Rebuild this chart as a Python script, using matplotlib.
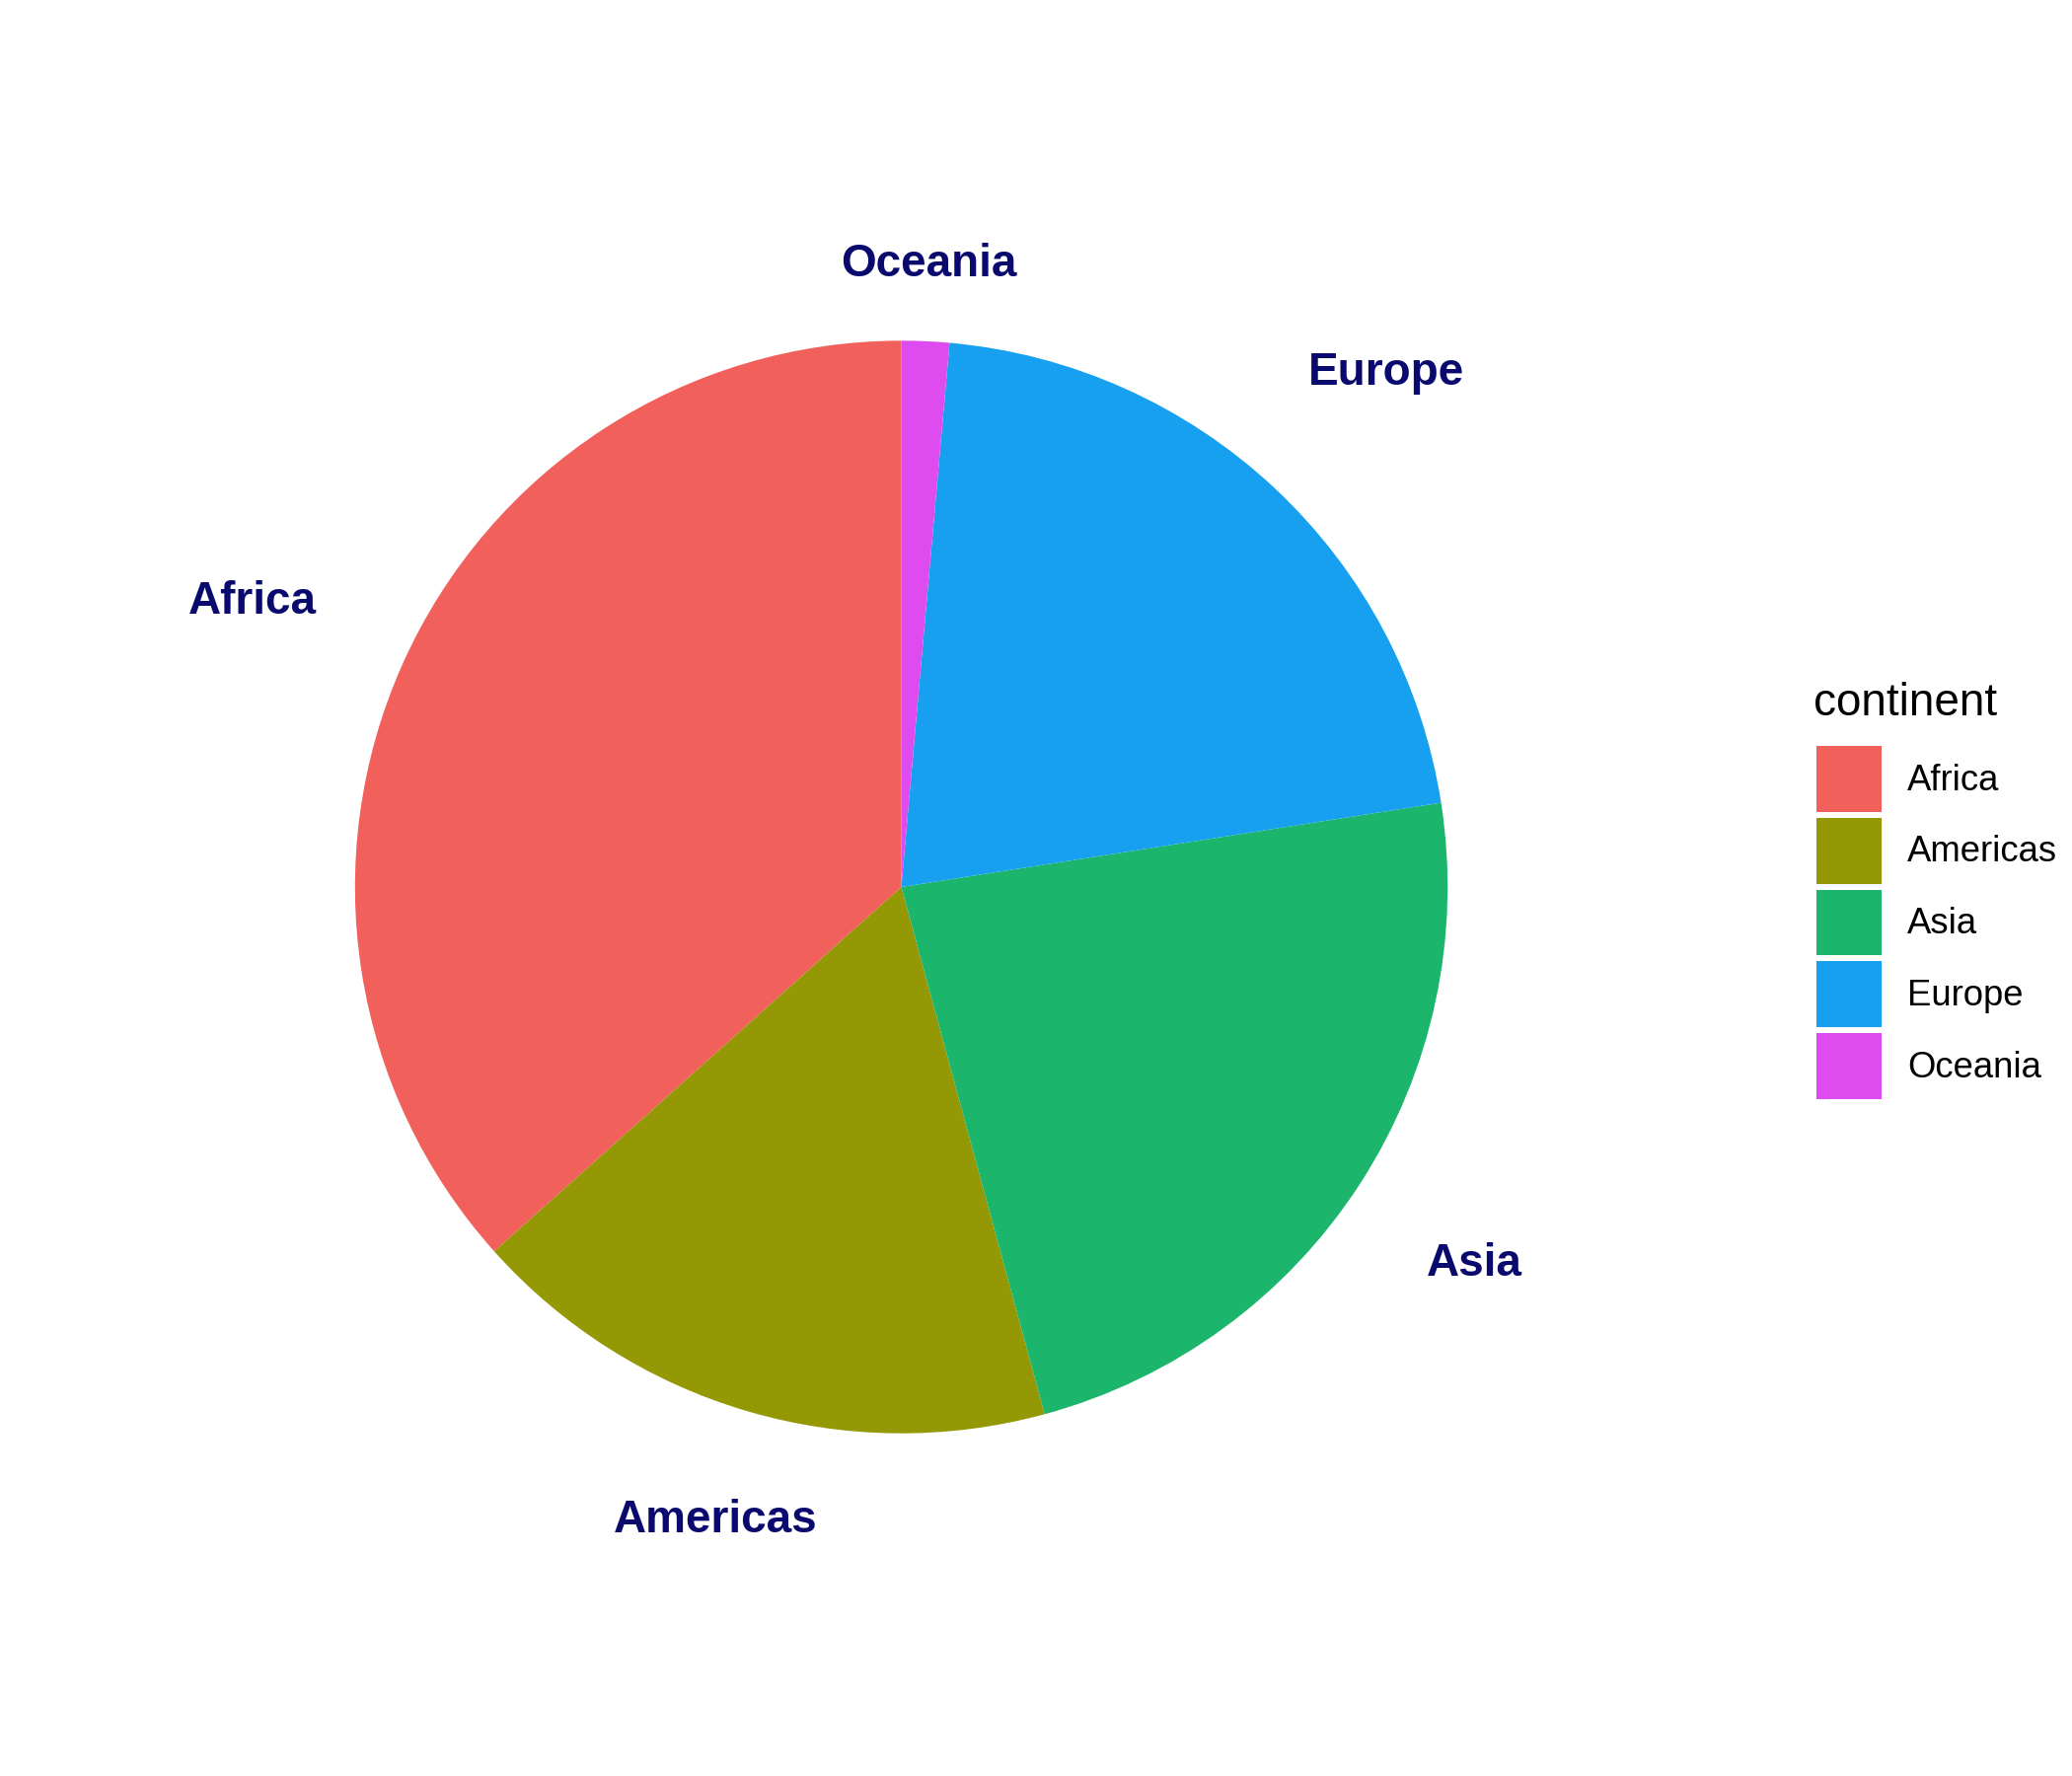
import numpy as np
import matplotlib
matplotlib.use("Agg")
import matplotlib.pyplot as plt

# number of countries per continent (gapminder)
continents = ["Africa", "Americas", "Asia", "Europe", "Oceania"]
counts = [52, 25, 33, 30, 2]
colors = ["#F2605C", "#939804", "#1BB56C", "#17A0F0", "#DE4BEF"]
label_r = [1.30, 1.20, 1.25, 1.30, 1.15]   # radial position of the outer labels

plt.rcParams['font.family'] = ['Liberation Sans', 'DejaVu Sans']

W, H = 2100, 1800
cx, cy, R = 913.5, 899, 553.7

fig = plt.figure(figsize=(7, 6), dpi=300)
ax = fig.add_axes([0, 0, 1, 1])

wedges, _ = ax.pie(counts, colors=colors, startangle=90, counterclock=True,
                   radius=1, center=(0, 0), frame=True,
                   wedgeprops=dict(linewidth=0, antialiased=True))
ax.set_xlim(-cx / R, (W - cx) / R)
ax.set_ylim(-(H - cy) / R, cy / R)
ax.set_aspect("equal")
ax.axis("off")

total = sum(counts)
cum = np.cumsum(counts) - np.array(counts) / 2
for name, c, r in zip(continents, cum, label_r):
    ang = np.deg2rad(90 + c / total * 360)
    ax.text(r * np.cos(ang), r * np.sin(ang), name, ha="center",
            va="center_baseline",
            fontsize=11, fontweight="bold", color="#0A0A6E")

# legend title drawn separately so its gap to the keys can match
fig.text(1838 / W, 1 - 725 / H, "continent", ha="left", va="baseline",
         fontsize=11)
leg = ax.legend(wedges, continents, frameon=False,
                loc="upper left", bbox_to_anchor=(1841 / W, 1 - 756 / H),
                bbox_transform=fig.transFigure,
                fontsize=8.75,
                handlelength=1.81, handleheight=2.44, labelspacing=0.165,
                handletextpad=0.71, borderpad=0, borderaxespad=0)

fig.savefig("out.png", dpi=300)
